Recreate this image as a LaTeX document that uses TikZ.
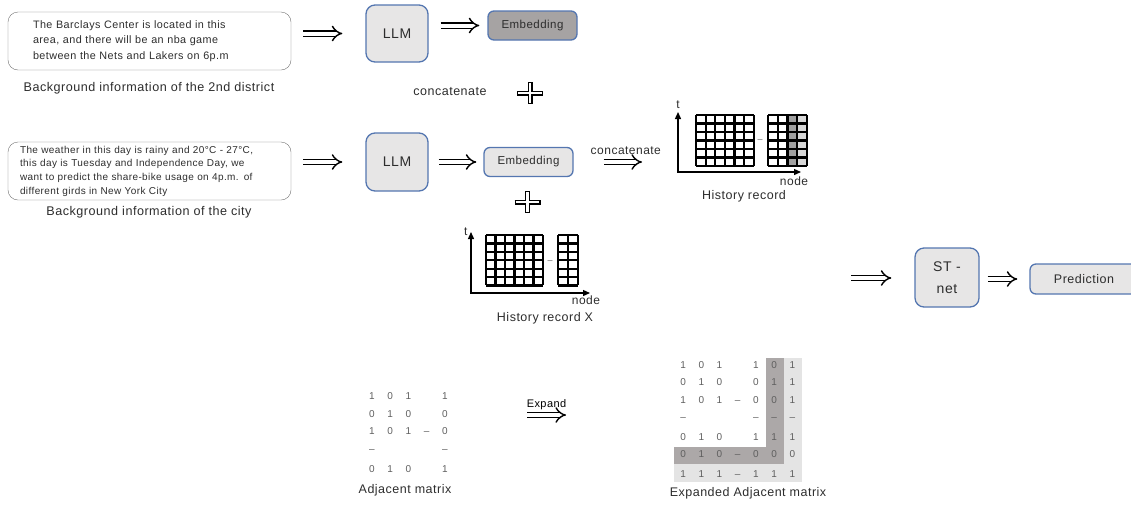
\documentclass[tikz,border=0pt]{standalone}
\usepackage{fontspec}
\setmainfont{Liberation Sans}[LetterSpace=4]
\usetikzlibrary{arrows.meta,matrix}

\definecolor{llmblue}{RGB}{84,118,176}
\definecolor{boxgray}{RGB}{231,230,230}
\definecolor{embdark}{RGB}{166,163,163}
\definecolor{txtgray}{RGB}{45,45,45}
\definecolor{matgray}{RGB}{95,95,95}
\definecolor{celldark}{RGB}{172,168,168}
\definecolor{celllight}{RGB}{228,228,228}
\definecolor{histdark}{RGB}{160,160,160}
\definecolor{histlight}{RGB}{217,217,217}

\tikzset{
  textbox/.style={draw=black!55, rounded corners=10pt, minimum width=283, minimum height=58, inner sep=0pt, align=left, text=txtgray},
  llmbox/.style={draw=llmblue, line width=1.3pt, fill=boxgray, rounded corners=9pt, inner sep=0pt, font=\fontsize{14}{18}\selectfont, text=txtgray},
  embbox/.style={llmbox, minimum width=89, minimum height=29, rounded corners=6pt, font=\fontsize{11.5}{14}\selectfont},
  hollow arrow/.style={double, double distance=4pt, line width=1.4pt, -{Implies}},
  labeltext/.style={font=\fontsize{12}{14}\selectfont, text=txtgray},
  gridline/.style={line width=2.2pt},
  axisline/.style={line width=1.3pt, {Triangle[length=7pt,width=6pt]}-{Triangle[length=7pt,width=6pt]}},
  plus outer/.style={line width=5pt},
  plus inner/.style={white, line width=2.4pt},
  adjcell/.style={minimum width=18.2, minimum height=17.7, inner sep=0pt, text=matgray, font=\fontsize{10}{12}\selectfont},
  expcell/.style={adjcell, minimum width=18.2, minimum height=17.5},
  dots/.style={text=matgray, font=\fontsize{9}{10}\selectfont}
}

\begin{document}
\begin{tikzpicture}[x=1pt, y=-1pt]
\useasboundingbox (0,0) rectangle (1131,504);

% background texts
\node [textbox, text width=233, font=\fontsize{10.8}{15.5}\selectfont] (district) at (149.5,41)
  {The Barclays Center is located in this\\area, and there will be an nba game\\between the Nets and Lakers on 6p.m};
\node [textbox, text width=259, font=\fontsize{10}{13.7}\selectfont] (city) at (149.5,171)
  {The weather in this day is rainy and 20°C - 27°C,\\this day is Tuesday and Independence Day, we\\want to predict the share-bike usage on 4p.m. of\\different girds in New York City};
\node [labeltext, font=\fontsize{12.6}{14}\selectfont] (district-label) at (149,88) {Background information of the 2nd district};
\node [labeltext, font=\fontsize{12.6}{14}\selectfont] (city-label) at (149,212) {Background information of the city};

% LLM and embeddings
\node [llmbox, minimum width=62, minimum height=57] (llm-1) at (397,33.5) {LLM};
\node [llmbox, minimum width=62, minimum height=58] (llm-2) at (397,162) {LLM};
\node [embbox, fill=embdark] (emb-1) at (532.5,25.5) {Embedding};
\node [embbox] (emb-2) at (528.5,162) {Embedding};

\draw [hollow arrow, shorten <=12pt, shorten >=23pt] (district.east |- llm-1) -- (llm-1.west);
\draw [hollow arrow, shorten <=12pt, shorten >=8pt] (llm-1.east |- emb-1) -- (emb-1.west);
\draw [hollow arrow, shorten <=12pt, shorten >=23pt] (city.east |- llm-2) -- (llm-2.west);
\draw [hollow arrow, shorten <=10pt, shorten >=7pt] (llm-2.east) -- (emb-2.west);

\node [labeltext, font=\fontsize{12.5}{14}\selectfont] (concat-1) at (450,92) {concatenate};
\foreach \c in {(530,93),(527.5,202)} {
  \draw [plus outer] \c ++(-13,0) -- ++(26,0) \c ++(0,-11) -- ++(0,22);
  \draw [plus inner] \c ++(-11.8,0) -- ++(23.6,0) \c ++(0,-9.8) -- ++(0,19.6);
}

% history record
\coordinate (hist-o) at (678,172);
\coordinate (hist-t) at (678,112);
\coordinate (hist-n) at (801,172);
\fill [histdark] (787.5,115) rectangle (797.25,166);
\fill [histlight] (797.25,115) rectangle (807,166);
\foreach \i in {0,...,6}
  \draw [gridline] (696+\i*9.6,115) -- ++(0,51);
\foreach \j in {0,...,6}
  \draw [gridline] (696,115+\j*8.5) -- ++(57.6,0);
\foreach \i in {0,...,4}
  \draw [gridline] (768+\i*9.75,115) -- ++(0,51);
\foreach \j in {0,...,6}
  \draw [gridline] (768,115+\j*8.5) -- ++(39,0);
\draw [axisline] (hist-t) -- (hist-o) -- (hist-n);
\node [labeltext, above] (hist-t-label) at (hist-t) {t};
\node [labeltext] (hist-n-label) at (794,181) {node};
\node [dots] (hist-dots) at (760,141) {--};
\node [labeltext, font=\fontsize{12.5}{14}\selectfont] (hist-label) at (744,196) {History record};

\draw [hollow arrow, shorten <=30pt, shorten >=36pt] (emb-2.east) -- (emb-2.east -| hist-o)
  node [labeltext, midway, above=3pt] (concat-2) {concatenate};

% history record X
\coordinate (histx-o) at (471,293);
\coordinate (histx-t) at (471,232);
\coordinate (histx-n) at (590,293);
\foreach \i in {0,...,6}
  \draw [gridline] (486+\i*9.5,235) -- ++(0,50.4);
\foreach \j in {0,...,6}
  \draw [gridline] (486,235+\j*8.4) -- ++(57,0);
\foreach \i in {0,...,2}
  \draw [gridline] (558+\i*10,235) -- ++(0,50.4);
\foreach \j in {0,...,6}
  \draw [gridline] (558,235+\j*8.4) -- ++(20,0);
\draw [axisline] (histx-t) -- (histx-o) -- (histx-n);
\node [labeltext, left] (histx-t-label) at (histx-t) {t};
\node [labeltext] (histx-n-label) at (586,300) {node};
\node [dots] (histx-dots) at (550,262) {--};
\node [labeltext, font=\fontsize{12.5}{14}\selectfont] (histx-label) at (545,318) {History record X};

% ST-net and prediction
\coordinate (st-in) at (851,278);
\node [llmbox, minimum width=64, minimum height=59, align=center, font=\fontsize{14}{22}\selectfont] (stnet) at (947,277.5) {ST -\\net};
\node [embbox, minimum width=108, minimum height=30, font=\fontsize{12.5}{14}\selectfont] (pred) at (1084,279) {Prediction};
\draw [hollow arrow, shorten >=23pt] (st-in) -- (st-in -| stnet.west);
\draw [hollow arrow, shorten <=8pt, shorten >=12pt] (stnet.east |- pred) -- (pred.west);

% adjacent matrices
\matrix (adj) [matrix of nodes, nodes={adjcell}, inner sep=0pt] at (408.4,432.4) {
  1 & 0 & 1 &    & 1 \\
  0 & 1 & 0 &    & 0 \\
  1 & 0 & 1 & -- & 0 \\
  --&   &   &    & --\\
  0 & 1 & 0 &    & 1 \\
};
\node [labeltext, font=\fontsize{12.5}{14}\selectfont] (adj-label) at (405,490) {Adjacent matrix};

\coordinate (expand-s) at (527,415);
\coordinate (expand-e) at (566,415);
\draw [hollow arrow] (expand-s) -- (expand-e)
  node [midway, above=1pt, font=\fontsize{11}{13}\selectfont] (expand-label) {Expand};

% shaded border of the expanded matrix
\fill [celldark] (765.6,358) rectangle (783.8,464.25);
\fill [celldark] (674,446.75) rectangle (783.8,464.25);
\fill [celllight] (783.8,358) rectangle (802,481.75);
\fill [celllight] (674,464.25) rectangle (802,481.75);
\matrix (expadj) [matrix of nodes, nodes={expcell}, inner sep=0pt] at (737.7,420.5) {
  1 & 0 & 1 &    & 1 & 0 & 1 \\
  0 & 1 & 0 &    & 0 & 1 & 1 \\
  1 & 0 & 1 & -- & 0 & 0 & 1 \\
  --&   &   &    & --& --& --\\
  0 & 1 & 0 &    & 1 & 1 & 1 \\
  0 & 1 & 0 & -- & 0 & 0 & 0 \\
  1 & 1 & 1 & -- & 1 & 1 & 1 \\
};
\node [labeltext, font=\fontsize{12.5}{14}\selectfont] (expadj-label) at (748,493) {Expanded Adjacent matrix};
\end{tikzpicture}
\end{document}
